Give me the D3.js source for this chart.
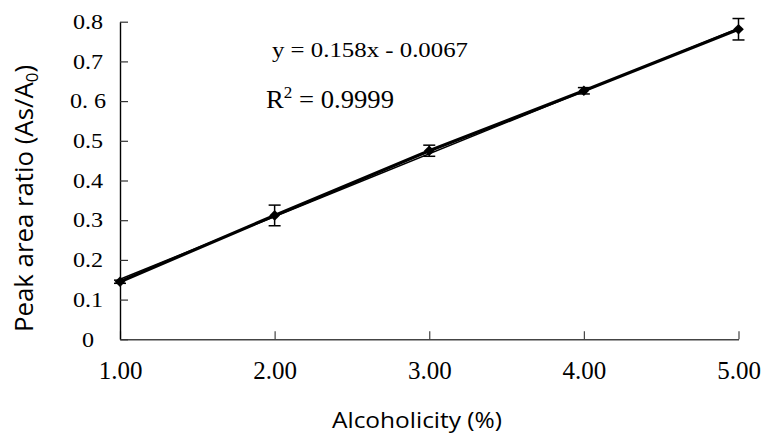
<!DOCTYPE html>
<html>
<head>
<meta charset="utf-8">
<script src="https://cdn.jsdelivr.net/npm/d3@7"></script>
<style>
  body { margin: 0; background: #fff; }
  svg { display: block; }
</style>
</head>
<body>
<div id="chart-area"></div>
<script>

// data
let alcohol = [1, 2, 3, 4, 5];
let ratio = [0.145, 0.312, 0.475, 0.626, 0.781];
let ratioErr = [0.004, 0.026, 0.014, 0.008, 0.027];

// linear fit shown on the chart
let slope = 0.158;
let intercept = -0.0067;
let rSquared = "0.9999";

// tick labels
let xTicks = [1, 2, 3, 4, 5];
let xTickLabels = ["1.00", "2.00", "3.00", "4.00", "5.00"];
let yTicks = [0, 0.1, 0.2, 0.3, 0.4, 0.5, 0.6, 0.7, 0.8];
let yTickLabels = ["0", "0.1", "0.2", "0.3", "0.4", "0.5", "0. 6", "0.7", "0.8"];

let data = alcohol.map(function(d, i) {
  return {x: d, y: ratio[i], e: ratioErr[i]};
});

let W = 766, H = 434;
let m = {top: 21.7, right: 27.5, bottom: 94.7, left: 120};
let w = W - m.left - m.right;
let h = H - m.top - m.bottom;

let svg = d3.select("#chart-area")
    .append("svg")
    .attr("width", W)
    .attr("height", H);

let g = svg.append("g")
    .attr("transform", "translate(" + m.left + "," + m.top + ")");

// scales
let x = d3.scaleLinear().domain([1, 5]).range([0, w]);
let y = d3.scaleLinear().domain([0, 0.8]).range([h, 0]);

// axes
let serif = "'Liberation Serif', 'Times New Roman', serif";
let sans = "'Open Sans', 'Noto Sans', sans-serif";

let xAxisCall = d3.axisBottom(x)
    .tickValues(xTicks)
    .tickSizeInner(-8)
    .tickSizeOuter(0)
    .tickPadding(22)
    .tickFormat(function(d, i) { return xTickLabels[i]; });
let xAxis = g.append("g")
    .attr("class", "x axis")
    .attr("transform", "translate(0," + h + ")")
    .call(xAxisCall);
xAxis.select(".domain").attr("stroke", "#444").attr("stroke-width", 1.6);
xAxis.selectAll(".tick line").attr("stroke", "#444").attr("stroke-width", 1.2);
xAxis.selectAll(".tick text")
    .attr("font-family", serif)
    .attr("font-size", "25px")
    .attr("fill", "#000");

let yAxisCall = d3.axisLeft(y)
    .tickValues(yTicks)
    .tickSizeInner(-8)
    .tickSizeOuter(0)
    .tickFormat(function(d, i) { return yTickLabels[i]; });
let yAxis = g.append("g")
    .attr("class", "y axis")
    .call(yAxisCall);
yAxis.select(".domain").attr("stroke", "#000").attr("stroke-width", 1.4);
yAxis.selectAll(".tick line").attr("stroke", "#333").attr("stroke-width", 1.2);
yAxis.selectAll(".tick text")
    .attr("x", 0)
    .attr("text-anchor", "middle")
    .attr("transform", "translate(-32,0) scale(1.15,1)")
    .attr("font-family", serif)
    .attr("font-size", "21px")
    .attr("fill", "#000");

// trend line
g.append("line")
    .attr("x1", x(1))
    .attr("y1", y(slope * 1 + intercept))
    .attr("x2", x(5))
    .attr("y2", y(slope * 5 + intercept))
    .attr("stroke", "#000")
    .attr("stroke-width", 1.5);

// data line
let line = d3.line()
    .x(function(d) { return x(d.x); })
    .y(function(d) { return y(d.y); });
g.append("path")
    .datum(data)
    .attr("d", line)
    .attr("fill", "none")
    .attr("stroke", "#000")
    .attr("stroke-width", 3.2);

// error bars
let bars = g.selectAll(".err")
    .data(data)
    .enter()
    .append("g")
    .attr("class", "err")
    .attr("stroke", "#000")
    .attr("stroke-width", 1.5);
bars.append("line")
    .attr("x1", function(d) { return x(d.x); })
    .attr("x2", function(d) { return x(d.x); })
    .attr("y1", function(d) { return y(d.y - d.e); })
    .attr("y2", function(d) { return y(d.y + d.e); });
bars.append("line")
    .attr("x1", function(d) { return x(d.x) - 6; })
    .attr("x2", function(d) { return x(d.x) + 6; })
    .attr("y1", function(d) { return y(d.y + d.e); })
    .attr("y2", function(d) { return y(d.y + d.e); });
bars.append("line")
    .attr("x1", function(d) { return x(d.x) - 6; })
    .attr("x2", function(d) { return x(d.x) + 6; })
    .attr("y1", function(d) { return y(d.y - d.e); })
    .attr("y2", function(d) { return y(d.y - d.e); });

// markers
g.selectAll(".pt")
    .data(data)
    .enter()
    .append("path")
    .attr("class", "pt")
    .attr("d", d3.symbol().type(d3.symbolDiamond2).size(72))
    .attr("transform", function(d) { return "translate(" + x(d.x) + "," + y(d.y) + ")"; })
    .attr("fill", "#000");

// equation
svg.append("text")
    .attr("x", 272)
    .attr("y", 57)
    .attr("font-family", serif)
    .attr("font-size", "22px")
    .attr("textLength", 196)
    .attr("lengthAdjust", "spacingAndGlyphs")
    .text("y = " + slope + "x - " + Math.abs(intercept));

let r2 = svg.append("text")
    .attr("x", 266)
    .attr("y", 108)
    .attr("font-family", serif)
    .attr("font-size", "25px")
    .attr("textLength", 128)
    .attr("lengthAdjust", "spacingAndGlyphs");
r2.append("tspan").text("R");
r2.append("tspan").attr("font-size", "16px").attr("dy", -10).text("2");
r2.append("tspan").attr("dy", 10).text(" = " + rSquared);

// x label
svg.append("text")
    .attr("x", 417)
    .attr("y", 428)
    .attr("text-anchor", "middle")
    .attr("font-family", sans)
    .attr("font-size", "21px")
    .attr("textLength", 170)
    .attr("lengthAdjust", "spacingAndGlyphs")
    .text("Alcoholicity (%)");

// y label
let yl = svg.append("text")
    .attr("transform", "translate(33,198.5) rotate(-90)")
    .attr("text-anchor", "middle")
    .attr("font-family", sans)
    .attr("font-size", "26px")
    .attr("textLength", 267)
    .attr("lengthAdjust", "spacingAndGlyphs");
yl.append("tspan").text("Peak area ratio (As/A");
yl.append("tspan").attr("font-size", "17px").attr("dy", 5).text("0");
yl.append("tspan").attr("dy", -5).text(")");

</script>
</body>
</html>
